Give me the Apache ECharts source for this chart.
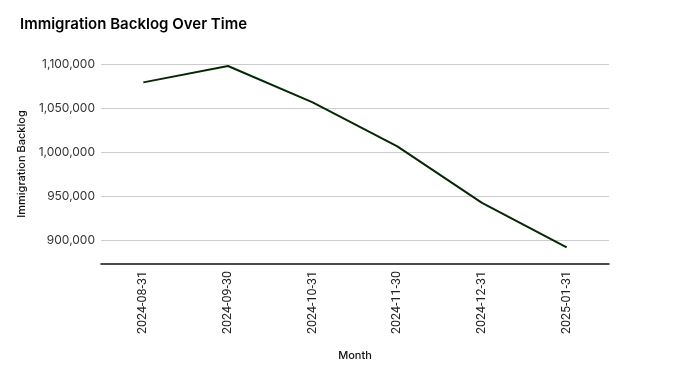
<!DOCTYPE html>
<html>
<head>
<meta charset="utf-8">
<script src="https://cdn.jsdelivr.net/npm/echarts@6/dist/echarts.min.js"></script>
<style>
html,body{margin:0;padding:0;background:#fff;}
#chart{width:700px;height:376px;}
</style>
</head>
<body>
<div id="chart"></div>
<script>
const months = ['2024-08-31','2024-09-30','2024-10-31','2024-11-30','2024-12-31','2025-01-31'];
const backlog = [1079200, 1097700, 1056600, 1006800, 942800, 892200];
const yTicks = [900000, 950000, 1000000, 1050000, 1100000];

const chart = echarts.init(document.getElementById('chart'));
chart.setOption({
  animation: false,
  backgroundColor: '#fff',
  title: {
    text: 'Immigration Backlog Over Time',
    left: 15, top: 12,
    textStyle: {fontFamily: 'Inter', fontSize: 15, fontWeight: 600, color: '#000'}
  },
  grid: {left: 101, right: 91, top: 64, bottom: 112},
  xAxis: {
    type: 'category',
    data: months,
    boundaryGap: true,
    name: 'Month',
    nameLocation: 'middle',
    nameGap: 86,
    nameTextStyle: {fontFamily: 'Inter', fontSize: 11, fontWeight: 500, color: '#111'},
    axisLine: {lineStyle: {color: '#111', width: 1.5}},
    axisTick: {show: false},
    axisLabel: {rotate: 90, margin: 7, fontFamily: 'Roboto', fontSize: 12.5, color: '#222'}
  },
  yAxis: {
    type: 'value',
    min: 873500,
    max: 1100000,
    name: 'Immigration Backlog',
    nameLocation: 'middle',
    nameGap: 74,
    nameTextStyle: {fontFamily: 'Inter', fontSize: 11, fontWeight: 500, color: '#111'},
    axisLine: {show: false},
    axisTick: {show: false, customValues: yTicks},
    axisLabel: {
      customValues: yTicks,
      margin: 6,
      fontFamily: 'Inter', fontSize: 12, color: '#333',
      formatter: v => v.toLocaleString('en-US')
    },
    splitLine: {show: true, lineStyle: {color: '#cccccc', width: 1}}
  },
  series: [{
    type: 'line',
    data: backlog,
    symbol: 'none',
    lineStyle: {color: '#042804', width: 2}
  }]
});
</script>
</body>
</html>
